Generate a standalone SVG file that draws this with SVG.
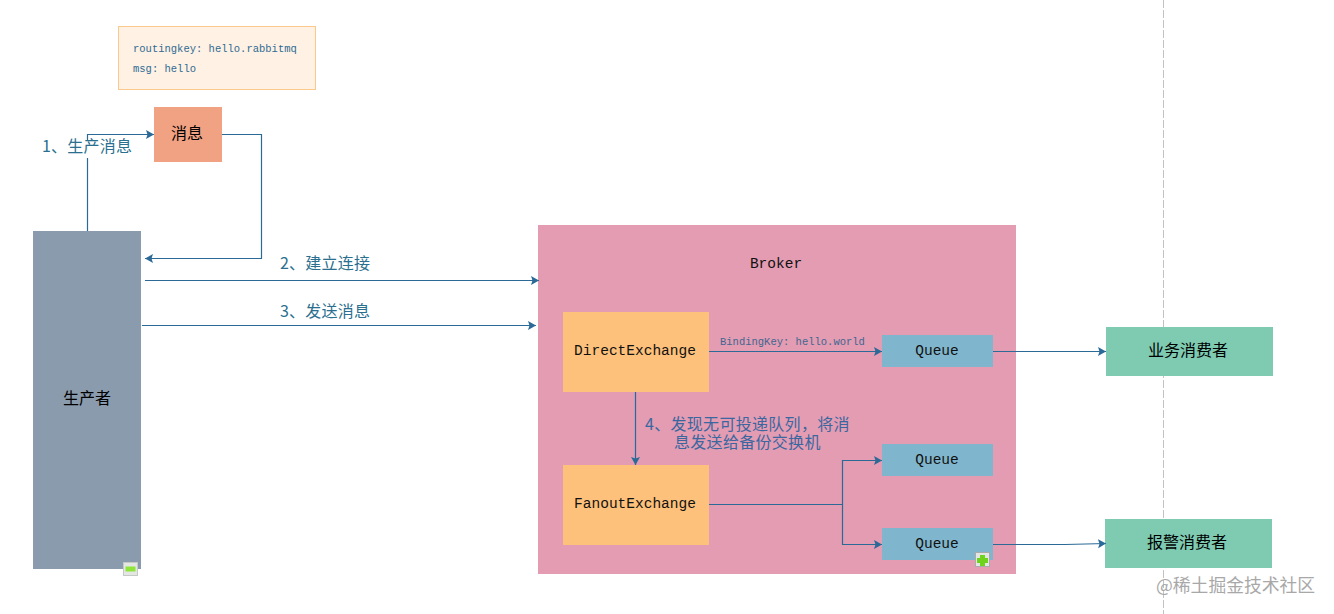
<svg xmlns="http://www.w3.org/2000/svg" width="1334" height="614" viewBox="0 0 1334 614">
<style>
.cjk{font-family:"Noto Sans CJK SC","Liberation Sans",sans-serif;font-size:16px;font-weight:400}
.mono{font-family:"Liberation Mono","Noto Sans CJK SC",monospace}
.blk{fill:#000;text-anchor:middle}
.blue{fill:#2a6f8f;letter-spacing:.2px}
.c{fill:none;stroke:#2b6a97;stroke-width:1.2}
.ex{fill:#fec17b}
.q{fill:#80b6cd}
.con{fill:#7ecbb2}
.t{font-size:14.5px;fill:#111;text-anchor:middle}
</style>
<defs>
<marker id="a" markerUnits="userSpaceOnUse" markerWidth="9" markerHeight="10" refX="8" refY="4.5" orient="auto"><path d="M0 0L8 4.5L0 9L1.5 4.5Z" fill="#2b6a97"/></marker>
</defs>
<rect width="1334" height="614" fill="#fff"/>
<line x1="1163.5" y1="0" x2="1163.5" y2="614" stroke="#c2c2c2" stroke-width="1" stroke-dasharray="8 2"/>
<g id="note"><rect x="118.500" y="26.500" width="197" height="63" fill="#fff1e3" stroke="#fbc98c"/>
<text class="mono" fill="#2f6b94" font-size="10.500" x="133" y="52">routingkey: hello.rabbitmq</text>
<text class="mono" fill="#2f6b94" font-size="10.500" x="133" y="72">msg: hello</text></g>
<g id="msg"><rect x="154" y="107" width="68" height="55" fill="#f1a283"/><text class="cjk blk" x="187" y="139">消息</text></g>
<g id="producer"><rect x="33" y="231" width="108" height="338" fill="#8b9bae"/><text class="cjk blk" x="87" y="404">生产者</text>
<rect x="123.500" y="562.500" width="14" height="13" fill="#e3e6e3" stroke="#c5c9c5"/><rect x="125.500" y="566.500" width="10" height="5" fill="#8fe53a"/></g>
<g id="broker"><rect x="538" y="225" width="478" height="349" fill="#e39cb2"/><text class="mono t" x="776" y="268">Broker</text></g>
<g id="direct"><rect class="ex" x="563" y="312" width="146" height="80"/><text class="mono t" x="635" y="355">DirectExchange</text></g>
<g id="fanout"><rect class="ex" x="563" y="465" width="146" height="80"/><text class="mono t" x="635" y="508">FanoutExchange</text></g>
<g id="queue1"><rect class="q" x="882" y="335" width="111" height="32"/><text class="mono t" x="937" y="355">Queue</text></g>
<g id="queue2"><rect class="q" x="882" y="444" width="111" height="32"/><text class="mono t" x="937" y="464">Queue</text></g>
<g id="queue3"><rect class="q" x="882" y="528" width="111" height="32"/><text class="mono t" x="937" y="548">Queue</text>
<rect x="975.500" y="552.500" width="14" height="14" fill="#e3e6e3" stroke="#aaa"/><path d="M980 555h5v3h3v5h-3v3h-5v-3h-3v-5h3z" fill="#6fd21c"/></g>
<g id="consumer1"><rect class="con" x="1106" y="327" width="167" height="49"/><text class="cjk blk" x="1188" y="356">业务消费者</text></g>
<g id="consumer2"><rect class="con" x="1105" y="519" width="167" height="49"/><text class="cjk blk" x="1187" y="548">报警消费者</text></g>
<g id="connectors">
<path class="c" d="M87.500 231V158M87.500 141V134.500H154" marker-end="url(#a)"/>
<path class="c" d="M222 134.500H261.500V258.500H145" marker-end="url(#a)"/>
<path class="c" d="M145 280.500H539" marker-end="url(#a)"/>
<path class="c" d="M142 325.500H536" marker-end="url(#a)"/>
<path class="c" d="M709 351.500H882" marker-end="url(#a)"/>
<path class="c" d="M635.500 392V465" marker-end="url(#a)"/>
<path class="c" d="M709 504.500H842.500V460.500H882" marker-end="url(#a)"/>
<path class="c" d="M842.500 504.500V544.500H882" marker-end="url(#a)"/>
<path class="c" d="M993 351.500H1106" marker-end="url(#a)"/>
<path class="c" d="M993 544.500H1065L1106 543.500" marker-end="url(#a)"/>
</g>
<g id="labels">
<text class="cjk blue" x="42" y="152">1、生产消息</text>
<text class="cjk blue" x="280" y="269">2、建立连接</text>
<text class="cjk blue" x="280" y="317">3、发送消息</text>
<text class="mono" font-size="10.500" fill="#3f6690" x="720" y="345">BindingKey: hello.world</text>
<text class="cjk" fill="#3a67a0" letter-spacing=".3"><tspan x="645" y="430">4、发现无可投递队列，将消</tspan><tspan x="674" y="448">息发送给备份交换机</tspan></text>
<text x="1156" y="592" font-family="Noto Sans CJK SC,sans-serif" font-size="17.800" fill="#a8a8a8">@稀土掘金技术社区</text>
</g>
</svg>
